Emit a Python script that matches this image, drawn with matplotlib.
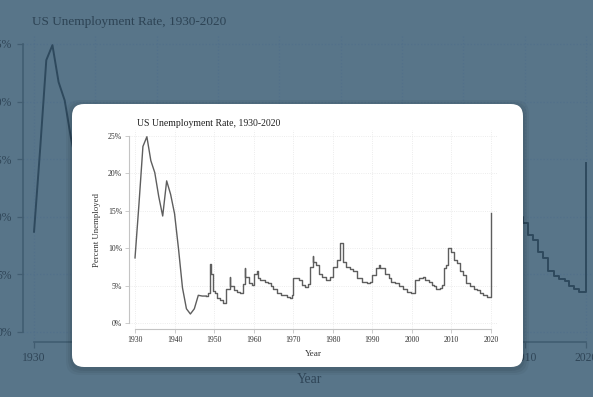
import matplotlib
matplotlib.use('Agg')
import matplotlib.pyplot as plt
import matplotlib.ticker as ticker
from matplotlib.patches import FancyBboxPatch

# --- DATA ---
TITLE = 'US Unemployment Rate, 1930-2020'

# annual rates, 1930-1948 (drawn as a plain line)
EARLY_YEARS = [1930, 1931, 1932, 1933, 1934, 1935, 1936, 1937, 1938, 1939,
               1940, 1941, 1942, 1943, 1944, 1945, 1946, 1947, 1948]
EARLY_RATES = [8.7, 15.9, 23.6, 24.9, 21.7, 20.1, 16.9, 14.3, 19.0, 17.2,
               14.6, 9.9, 4.7, 1.9, 1.2, 1.9, 3.7, 3.6, 3.6]

# stepped series from 1948 on (start of step, rate)
STEP_YEARS = [1948.0, 1948.5, 1949.0, 1949.1, 1949.8, 1950.3, 1950.8, 1951.5, 1952.2,
              1953.0, 1953.9, 1954.0, 1955.0, 1955.8, 1956.6, 1957.2, 1957.8, 1957.9,
              1958.8, 1959.5, 1960.2, 1960.9, 1961.2, 1961.6, 1962.9, 1963.6, 1964.3,
              1965.0, 1965.8, 1967.0, 1968.3, 1969.2, 1969.7, 1970.0, 1971.5, 1972.3,
              1973.0, 1973.8, 1974.2, 1974.9, 1975.0, 1975.7, 1976.5, 1977.3, 1978.3,
              1979.2, 1980.0, 1981.0, 1981.8, 1982.6, 1983.4, 1984.4, 1985.2, 1986.2,
              1987.3, 1988.6, 1989.5, 1990.0, 1990.8, 1991.8, 1992.0, 1993.2, 1994.2,
              1994.8, 1995.8, 1996.8, 1997.8, 1998.8, 1999.8, 2000.9, 2001.8, 2002.8,
              2003.3, 2004.2, 2005.0, 2005.6, 2006.2, 2007.0, 2007.6, 2008.0, 2008.6,
              2009.1, 2009.8, 2010.6, 2011.4, 2012.2, 2013.0, 2013.8, 2014.8, 2015.6,
              2016.5, 2017.2, 2018.0, 2018.9, 2020.0]
STEP_RATES = [3.6, 4.0, 7.9, 6.6, 4.3, 4.0, 3.3, 3.1, 2.7,
              4.5, 6.1, 5.0, 4.4, 4.2, 4.0, 5.2, 7.4, 6.2,
              5.3, 5.1, 6.6, 7.0, 6.0, 5.7, 5.5, 5.3, 5.0,
              4.6, 4.0, 3.8, 3.5, 3.4, 3.8, 6.0, 5.7, 5.1,
              4.8, 5.2, 7.5, 8.9, 8.2, 7.8, 6.6, 6.2, 5.7,
              6.2, 7.5, 8.4, 10.7, 8.2, 7.5, 7.2, 6.9, 6.0,
              5.5, 5.3, 5.5, 6.4, 7.3, 7.8, 7.3, 6.6, 6.0,
              5.5, 5.3, 4.9, 4.5, 4.2, 4.0, 5.7, 6.0, 6.1,
              5.8, 5.5, 5.1, 4.9, 4.6, 4.7, 5.1, 7.3, 7.8,
              10.0, 9.5, 8.4, 8.0, 6.9, 6.4, 5.3, 4.9, 4.6,
              4.4, 4.0, 3.7, 3.5, 14.7]

X_TICKS = [1930, 1940, 1950, 1960, 1970, 1980, 1990, 2000, 2010, 2020]
Y_TICKS = [0, 5, 10, 15, 20, 25]

# --- STYLE ---
W, H = 593, 397
BACKDROP = '#587589'

plt.rcParams['font.family'] = ['Liberation Serif', 'DejaVu Serif']


def px_rect(left, top, right, bottom):
    """Axes rect in figure fractions from pixel edges (origin top-left)."""
    return [left / W, 1 - bottom / H, (right - left) / W, (bottom - top) / H]


def draw_chart(ax, k, line_c, text_c, spine_c, grid_c, lw, xlim, ylim):
    ax.plot(EARLY_YEARS, EARLY_RATES, color=line_c, lw=lw, solid_joinstyle='round', clip_on=False)
    ax.plot(STEP_YEARS, STEP_RATES, drawstyle='steps-post', color=line_c, lw=lw, clip_on=False)
    ax.set_xlim(*xlim)
    ax.set_ylim(*ylim)
    ax.set_xticks(X_TICKS)
    ax.set_yticks(Y_TICKS)
    ax.yaxis.set_major_formatter(ticker.FuncFormatter(lambda v, p: f'{v:.0f}%'))
    ax.grid(True, ls=':', color=grid_c, lw=0.6 * k)
    ax.set_axisbelow(True)
    for s in ['top', 'right']:
        ax.spines[s].set_visible(False)
    for s in ['left', 'bottom']:
        ax.spines[s].set_color(spine_c)
        ax.spines[s].set_linewidth(0.8 * k)
    ax.spines['left'].set_bounds(0, 25)
    ax.spines['bottom'].set_bounds(1930, 2020)
    ax.tick_params(length=3 * k, width=0.6 * k, color=spine_c, labelsize=5.6 * k,
                   labelcolor=text_c, pad=2 * k)
    ax.set_xlabel('Year', fontsize=6.6 * k, color=text_c, labelpad=4 * k)
    ax.set_ylabel('Percent Unemployed', fontsize=6.3 * k, color=text_c, labelpad=5 * k)
    ax.set_facecolor('none')


fig = plt.figure(figsize=(W / 100, H / 100), dpi=100)
fig.patch.set_facecolor(BACKDROP)

# background (dimmed, enlarged) chart
ax_bg = fig.add_axes(px_rect(22.5, 35, 597, 342), zorder=0)
draw_chart(ax_bg, 1.5, '#2e495d', '#2f4557', '#415d71', '#52708a', 1.4,
           (1928.12, 2021.79), (-0.87, 25.78))
fig.text(32 / W, 1 - 22 / H, TITLE, fontsize=9.5, color='#2d4354', va='center', zorder=0)

# card with soft shadow
for i, a in enumerate([0.06, 0.05, 0.04]):
    g = (i + 1) * 0.02
    sh = FancyBboxPatch((0.72 - g, 0.30 - g - 0.02), 4.51 + 2 * g, 2.63 + 2 * g,
                        boxstyle='round,pad=0,rounding_size=0.14', transform=fig.dpi_scale_trans,
                        fc='black', ec='none', alpha=a, zorder=1)
    fig.add_artist(sh)
card = FancyBboxPatch((0.72, 0.30), 4.51, 2.63, boxstyle='round,pad=0,rounding_size=0.12',
                      transform=fig.dpi_scale_trans, fc='white', ec='none', zorder=1.5)
fig.add_artist(card)

# foreground chart on the card
ax_fg = fig.add_axes(px_rect(129, 130, 498, 329.4), zorder=2)
draw_chart(ax_fg, 1.0, '#5e5e5e', '#333333', '#c4c4c4', '#e6e6e6', 1.0,
           (1928.48, 2021.77), (-0.86, 25.8))
fig.text(137 / W, 1 - 124 / H, TITLE, fontsize=7.0, color='#222222', va='center', zorder=3)

plt.savefig('out.png', dpi=100, facecolor=fig.get_facecolor())
